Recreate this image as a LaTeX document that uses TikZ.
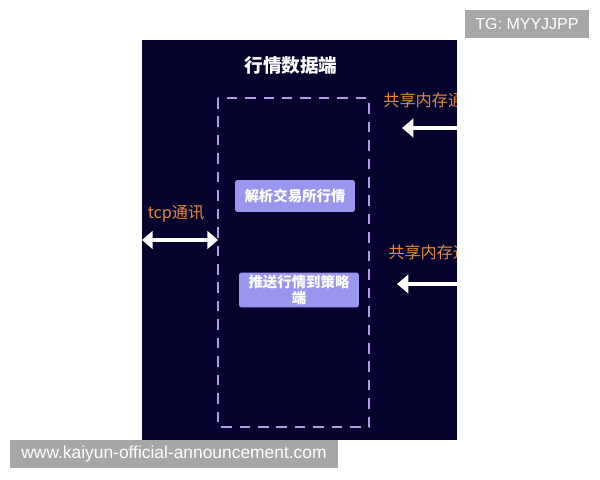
\documentclass[tikz,border=0pt]{standalone}
\usepackage{fontspec}
\setmainfont{Liberation Sans}
\newfontfamily\cjk{Noto Sans CJK SC}
\usetikzlibrary{arrows.meta}
\definecolor{panelbg}{HTML}{05032D}
\definecolor{framepurple}{HTML}{B39BE6}
\definecolor{boxfill}{HTML}{9A96F0}
\definecolor{labelorange}{HTML}{E38A3C}
\definecolor{stampgray}{HTML}{A7A7A7}

\begin{document}
\begin{tikzpicture}[x=0.02cm,y=-0.02cm,
  task/.style={fill=boxfill, rounded corners=1.5pt, text=white, align=center,
    font=\cjk\bfseries\fontsize{8.2}{9.5}\selectfont, inner sep=0pt},
  tag/.style={text=labelorange, font=\cjk\fontsize{9.2}{10}\selectfont, inner sep=0pt},
  link/.style={white, line width=2.8pt},
  stamp/.style={fill=stampgray, text=white, inner sep=0pt}]
\useasboundingbox[fill=white] (0,0) rectangle (600,480);

% panel and frame
\fill[panelbg] (142,40) rectangle (457,440);
\node[text=white, font=\cjk\bfseries\fontsize{10.6}{12}\selectfont] (title) at (291,65) {行情数据端};
\draw[framepurple, line width=1.1pt, dash pattern=on 6pt off 4.5pt] (218,98) rectangle (369,427);

% inner boxes
\node[task, minimum width=2.4cm, minimum height=0.64cm] (parse) at (295,196) {解析交易所行情};
\node[task, minimum width=2.4cm, minimum height=0.7cm] (push) at (299,290) {推送行情到策略\\端};

% tcp link
\node[tag] (tcp) at (176,214) {tcp通讯};
\coordinate (panelW) at (142,240);
\coordinate (frameW) at (218,240);
\draw[link, {Triangle[width=10pt,length=6pt]}-{Triangle[width=10pt,length=6pt]}] (panelW) -- (frameW);

% shared memory links
\begin{scope}
\clip (142,40) rectangle (457,440);
\node[tag, anchor=west] (shmA) at (383,100) {共享内存通讯};
\node[tag, anchor=west] (shmB) at (388,252) {共享内存通讯};
\end{scope}
\coordinate (edgeA) at (457,128);
\coordinate (tipA) at (402,128);
\coordinate (edgeB) at (457,284);
\coordinate (tipB) at (397,284);
\draw[link, -{Triangle[width=10.5pt,length=6.5pt]}] (edgeA) -- (tipA);
\draw[link, -{Triangle[width=10.5pt,length=6.5pt]}] (edgeB) -- (tipB);

% watermarks
\fill[stampgray] (10,440) rectangle (338,468);
\node[text=white, font=\fontsize{9.9}{11}\selectfont] (site) at (174,454) {www.kaiyun-official-announcement.com};
\fill[stampgray] (465,10) rectangle (589,38);
\node[text=white, font=\fontsize{9.1}{11}\selectfont] (tg) at (527,24) {TG: MYYJJPP};
\end{tikzpicture}
\end{document}
